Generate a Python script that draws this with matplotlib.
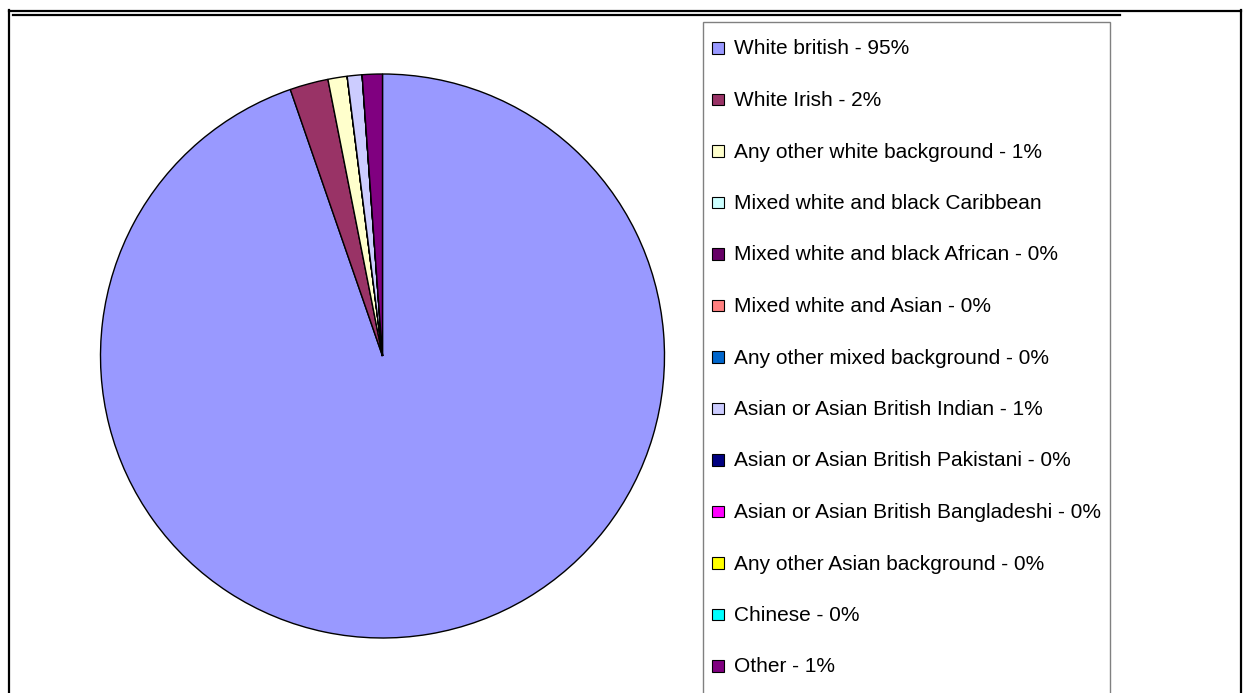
import matplotlib.pyplot as plt
from matplotlib.lines import Line2D
from matplotlib.patches import Rectangle

plt.rcParams['font.family'] = ['Liberation Sans', 'DejaVu Sans']

# Ethnic groups and their share (%)
groups = ['White british', 'White Irish', 'Any other white background',
          'Mixed white and black Caribbean', 'Mixed white and black African',
          'Mixed white and Asian', 'Any other mixed background',
          'Asian or Asian British Indian', 'Asian or Asian British Pakistani',
          'Asian or Asian British Bangladeshi', 'Any other Asian background',
          'Chinese', 'Other']
shares = [94.7, 2.2, 1.1, 0, 0, 0, 0, 0.85, 0, 0, 0, 0, 1.15]
legend_labels = ['White british - 95%', 'White Irish - 2%',
                 'Any other white background - 1%',
                 'Mixed white and black Caribbean',
                 'Mixed white and black African - 0%',
                 'Mixed white and Asian - 0%',
                 'Any other mixed background - 0%',
                 'Asian or Asian British Indian - 1%',
                 'Asian or Asian British Pakistani - 0%',
                 'Asian or Asian British Bangladeshi - 0%',
                 'Any other Asian background - 0%',
                 'Chinese - 0%', 'Other - 1%']
colors = ['#9999FF', '#993366', '#FFFFCC', '#CCFFFF', '#660066', '#FF8080',
          '#0066CC', '#CCCCFF', '#000080', '#FF00FF', '#FFFF00', '#00FFFF',
          '#800080']

W, H = 1248, 693
fig = plt.figure(figsize=(W / 100, H / 100), dpi=100)

# overlay in pixel coordinates for the frame lines and the legend
ov = fig.add_axes([0, 0, 1, 1])
ov.set_xlim(0, W)
ov.set_ylim(H, 0)
ov.axis('off')
ov.add_line(Line2D([9, 1241], [11, 11], color='black', lw=1.6))
ov.add_line(Line2D([13, 1120], [15, 15], color='black', lw=1.6))
ov.add_line(Line2D([9, 9], [10, H], color='black', lw=1.6))
ov.add_line(Line2D([1241, 1241], [10, H], color='black', lw=1.6))

# pie
cx, cy, r = 382.5, 356, 282
ax = fig.add_axes([(cx - r) / W, (H - cy - r) / H, 2 * r / W, 2 * r / H])
wedges, _ = ax.pie(shares, colors=colors, startangle=90, counterclock=False,
                   wedgeprops=dict(edgecolor='black', linewidth=1.0))
for w in wedges:
    w.set_clip_on(False)
ax.set_xlim(-1, 1)
ax.set_ylim(-1, 1)
ax.set_aspect('equal')

# legend box, Excel style (runs off the bottom of the picture)
ov.add_patch(Rectangle((703, 22), 407, H, facecolor='white',
                       edgecolor='#808080', lw=1.0))
row0, step = 54.5, 51.5
for i, (lab, col) in enumerate(zip(legend_labels, colors)):
    base = row0 + i * step
    ov.add_patch(Rectangle((712, base - 12.5), 11.5, 11.5, facecolor=col,
                           edgecolor='black', lw=0.8))
    ov.text(734, base, lab, fontsize=15, va='baseline', ha='left')

fig.savefig('out.png', dpi=100)
